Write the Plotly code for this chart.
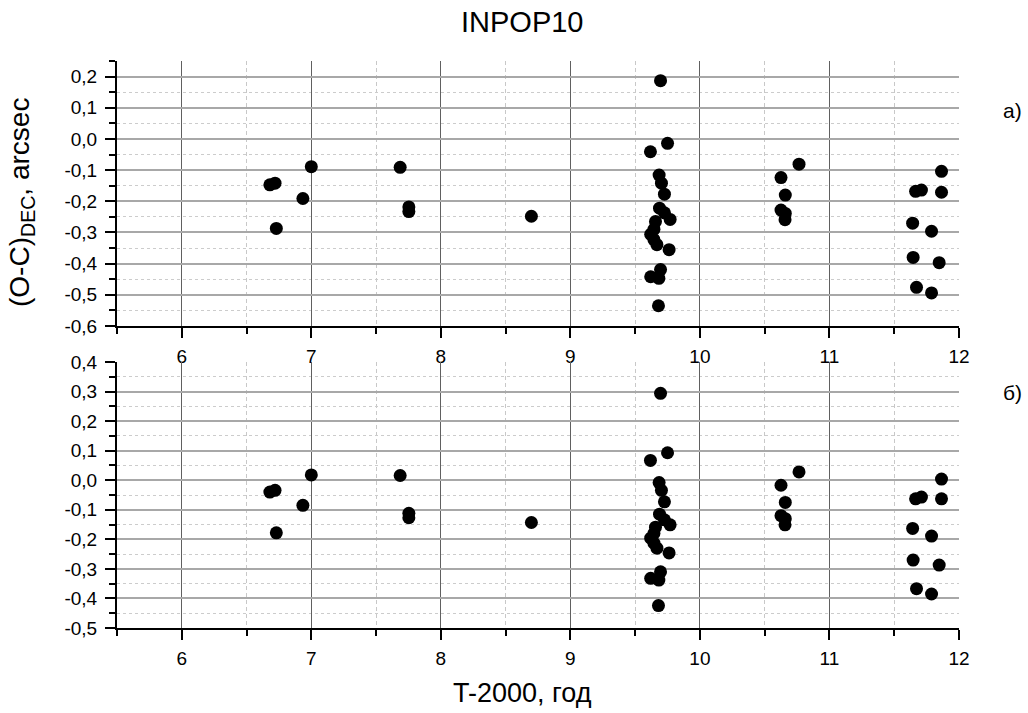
import plotly.graph_objects as go

# ---------------- data ----------------
t_years = [6.68, 6.72, 7.00, 6.935, 6.73, 7.686, 7.753, 7.753,
           8.699,
           9.696, 9.75, 9.618, 9.685, 9.703, 9.726, 9.688, 9.726, 9.77, 9.657,
           9.645, 9.62, 9.645, 9.668, 9.762, 9.696, 9.62, 9.683, 9.68,
           10.765, 10.626, 10.659, 10.626, 10.659, 10.657,
           11.865, 11.665, 11.71, 11.865, 11.642, 11.788, 11.646, 11.847, 11.672, 11.788]

oc_a = [-0.147, -0.142, -0.089, -0.191, -0.287, -0.091, -0.218, -0.233,
        -0.248,
        0.187, -0.014, -0.041, -0.116, -0.142, -0.177, -0.222, -0.237, -0.258, -0.265,
        -0.290, -0.306, -0.323, -0.339, -0.355, -0.419, -0.442, -0.447, -0.535,
        -0.081, -0.124, -0.180, -0.228, -0.239, -0.259,
        -0.104, -0.168, -0.164, -0.171, -0.270, -0.296, -0.380, -0.397, -0.476, -0.494]

oc_b = [-0.040, -0.034, 0.018, -0.085, -0.178, 0.016, -0.112, -0.127,
        -0.143,
        0.294, 0.093, 0.067, -0.008, -0.034, -0.073, -0.115, -0.134, -0.151, -0.159,
        -0.180, -0.196, -0.213, -0.230, -0.246, -0.310, -0.332, -0.338, -0.424,
        0.028, -0.017, -0.075, -0.120, -0.130, -0.151,
        0.004, -0.063, -0.057, -0.063, -0.163, -0.189, -0.270, -0.287, -0.367, -0.385]

x_tick_vals = [6, 7, 8, 9, 10, 11, 12]
x_tick_text = ["6", "7", "8", "9", "10", "11", "12"]

ya_tick_vals = [-0.6, -0.5, -0.4, -0.3, -0.2, -0.1, 0.0, 0.1, 0.2]
ya_tick_text = ["-0,6", "-0,5", "-0,4", "-0,3", "-0,2", "-0,1", "0,0", "0,1", "0,2"]

yb_tick_vals = [-0.5, -0.4, -0.3, -0.2, -0.1, 0.0, 0.1, 0.2, 0.3, 0.4]
yb_tick_text = ["-0,5", "-0,4", "-0,3", "-0,2", "-0,1", "0,0", "0,1", "0,2", "0,3", "0,4"]

title_text = "INPOP10"
x_title = "T-2000, год"
y_title = "(O-C)<sub>DEC</sub>, arcsec"
panel_labels = ["а)", "б)"]

# ---------------- figure ----------------
FONT = "Liberation Sans, Arial, sans-serif"
marker = dict(color="black", size=13, line=dict(width=0))

fig = go.Figure()
fig.add_trace(go.Scatter(x=t_years, y=oc_a, mode="markers", marker=marker,
                         xaxis="x", yaxis="y", showlegend=False))
fig.add_trace(go.Scatter(x=t_years, y=oc_b, mode="markers", marker=marker,
                         xaxis="x2", yaxis="y2", showlegend=False))

def xaxis_style(anchor):
    return dict(
        anchor=anchor, domain=[0, 1], range=[5.5, 12],
        tickmode="array", tickvals=x_tick_vals, ticktext=x_tick_text,
        ticks="outside", ticklen=10, tickwidth=2, tickcolor="black",
        ticklabelstandoff=2,
        showline=True, linecolor="black", linewidth=2, mirror=False,
        showgrid=True, gridcolor="#606060", gridwidth=1,
        zeroline=False,
        tickfont=dict(family=FONT, size=19, color="black"),
        minor=dict(tickmode="linear", tick0=5.5, dtick=0.5, ticks="outside",
                   ticklen=6, tickwidth=2, tickcolor="black",
                   showgrid=True, gridcolor="#c8c8c8", gridwidth=1,
                   griddash="4px,3px"),
    )

def yaxis_style(anchor, rng, vals, text, domain):
    return dict(
        anchor=anchor, domain=domain, range=rng,
        tickmode="array", tickvals=vals, ticktext=text,
        ticks="outside", ticklen=10, tickwidth=2, tickcolor="black",
        ticklabelstandoff=4,
        showline=True, linecolor="black", linewidth=2, mirror=False,
        showgrid=True, gridcolor="#a8a8a8", gridwidth=2,
        zeroline=False,
        tickfont=dict(family=FONT, size=19, color="black"),
        minor=dict(tickmode="linear", tick0=0.05, dtick=0.1, ticks="outside",
                   ticklen=6, tickwidth=2, tickcolor="black",
                   showgrid=True, gridcolor="#cccccc", gridwidth=1,
                   griddash="3px,3px"),
    )

fig.update_layout(
    width=1028, height=713,
    margin=dict(l=117, r=69, t=61, b=85),
    paper_bgcolor="white", plot_bgcolor="white",
    font=dict(family=FONT, color="black"),
    xaxis=xaxis_style("y"),
    yaxis=yaxis_style("x", [-0.6, 0.25], ya_tick_vals, ya_tick_text, [0.5326, 1.0]),
    xaxis2=xaxis_style("y2"),
    yaxis2=yaxis_style("x2", [-0.5, 0.4], yb_tick_vals, yb_tick_text, [0.0, 0.4691]),
)

common = dict(xref="paper", yref="paper", showarrow=False,
              xanchor="center", yanchor="middle")
ann = [
    dict(text=title_text, x=0.481, y=1.0688, font=dict(family=FONT, size=29), **common),
    dict(text=x_title, x=0.481, y=-0.1146, font=dict(family=FONT, size=27), **common),
    dict(text=y_title, x=-0.1128, y=0.7496, textangle=-90,
         font=dict(family=FONT, size=28), **common),
    dict(text=panel_labels[0], x=1.063, y=0.912, font=dict(family=FONT, size=21), **common),
    dict(text=panel_labels[1], x=1.063, y=0.4145, font=dict(family=FONT, size=21), **common),
]
fig.update_layout(annotations=ann)

fig.write_html("out.html")
